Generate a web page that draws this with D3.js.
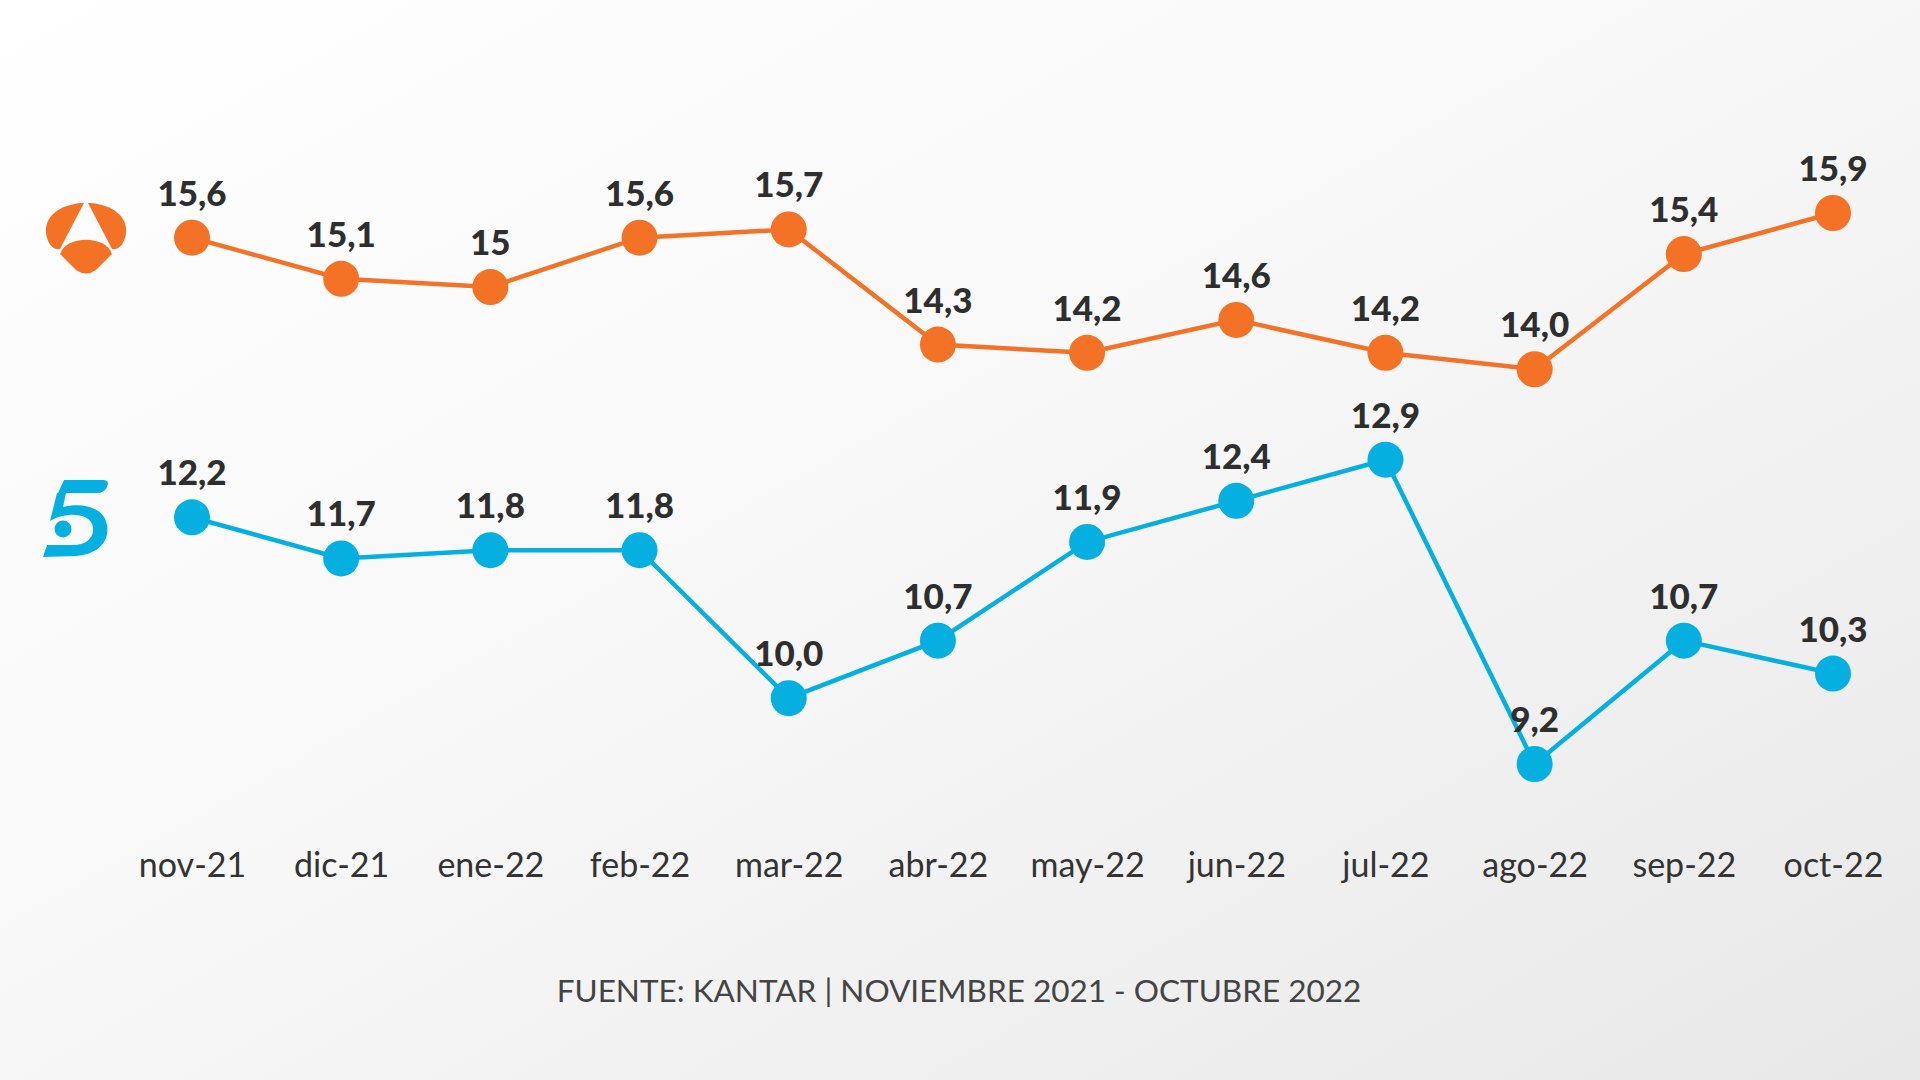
<!DOCTYPE html>
<html><head><meta charset="utf-8">
<script src="https://cdn.jsdelivr.net/npm/d3@7"></script>
<style>html,body{margin:0;padding:0;overflow:hidden;}svg{display:block;}</style>
</head><body>
<svg id="chart" width="1920" height="1080"></svg>
<script>
const months = ["nov-21","dic-21","ene-22","feb-22","mar-22","abr-22","may-22","jun-22","jul-22","ago-22","sep-22","oct-22"];
const antena3Values = [15.6,15.1,15.0,15.6,15.7,14.3,14.2,14.6,14.2,14.0,15.4,15.9];
const antena3Labels = ["15,6","15,1","15","15,6","15,7","14,3","14,2","14,6","14,2","14,0","15,4","15,9"];
const telecincoValues = [12.2,11.7,11.8,11.8,10.0,10.7,11.9,12.4,12.9,9.2,10.7,10.3];
const telecincoLabels = ["12,2","11,7","11,8","11,8","10,0","10,7","11,9","12,4","12,9","9,2","10,7","10,3"];
const footerText = "FUENTE: KANTAR | NOVIEMBRE 2021 - OCTUBRE 2022";

const svg = d3.select("#chart");
const defs = svg.append("defs");
const grad = defs.append("linearGradient").attr("id","bg").attr("x1","0").attr("y1","0").attr("x2","1").attr("y2","1");
grad.append("stop").attr("offset","0%").attr("stop-color","#ffffff");
grad.append("stop").attr("offset","45%").attr("stop-color","#f8f8f8");
grad.append("stop").attr("offset","100%").attr("stop-color","#e8e8e8");
svg.append("rect").attr("width",1920).attr("height",1080).attr("fill","url(#bg)");

const x = d3.scalePoint().domain(months).range([192,1833]);
const y = d3.scaleLinear().domain([9.2,15.9]).range([764,213]);

const ORANGE = "#F47226", BLUE = "#05B0E0";

function drawSeries(values, labels, color){
  const data = months.map((m,i)=>({m, v:values[i], l:labels[i]}));
  const g = svg.append("g");
  g.append("path").datum(data)
    .attr("d", d3.line().x(d=>x(d.m)).y(d=>y(d.v)))
    .attr("fill","none").attr("stroke",color).attr("stroke-width",4.5);
  g.selectAll("circle").data(data).join("circle")
    .attr("cx",d=>x(d.m)).attr("cy",d=>y(d.v)).attr("r",18).attr("fill",color);
  g.selectAll("text").data(data).join("text")
    .attr("x",d=>x(d.m)).attr("y",d=>y(d.v)-32)
    .attr("text-anchor","middle")
    .attr("font-family","Lato, 'Open Sans', sans-serif")
    .attr("font-weight",900).attr("font-size",35)
    .attr("fill","#2e2e2e").text(d=>d.l);
}
drawSeries(antena3Values, antena3Labels, ORANGE);
drawSeries(telecincoValues, telecincoLabels, BLUE);

// x axis labels
const axis = d3.axisBottom(x).tickSize(0).tickPadding(0);
const ax = svg.append("g").attr("transform","translate(0,860)").call(axis);
ax.select(".domain").remove();
ax.selectAll("text").attr("font-family","Lato, sans-serif").attr("font-size",34)
  .attr("font-weight",400).attr("fill","#333").attr("dy","0.5em");

// footer
svg.append("text").attr("x",959).attr("y",1002).attr("text-anchor","middle")
  .attr("font-family","Lato, sans-serif").attr("font-size",31.5).attr("font-weight",400)
  .attr("fill","#444").text(footerText);

// Antena 3 logo
const a3 = svg.append("g").attr("fill",ORANGE);
a3.append("path").attr("d","M84,203 C70,203 48,210 46,228 C45,240 52,251 60,249 Z");
a3.append("path").attr("d","M88,203 C102,203 124,210 126,228 C127,240 120,251 112,249 Z");
a3.append("path").attr("d","M60,254 C66,235 106,235 112,254 L96,270 Q86,277 76,270 Z");

// Telecinco logo
const t5 = svg.append("g").attr("fill",BLUE);
t5.append("path").attr("d","M64,480 L104,480 Q110,481 107,487 Q104,493 97,493 L58,493 Z");
t5.append("path").attr("d","M57,493 L66,493 L63,507 C82,502 104,507 107,525 C110,543 96,555 75,556 L43,557 L47,545 L73,545 C86,545 94,538 93,528 C92,517 80,514 68,515 C60,516 55,518 50,521 Z");
t5.append("circle").attr("cx",63).attr("cy",529).attr("r",8.5);
</script>
</body></html>
